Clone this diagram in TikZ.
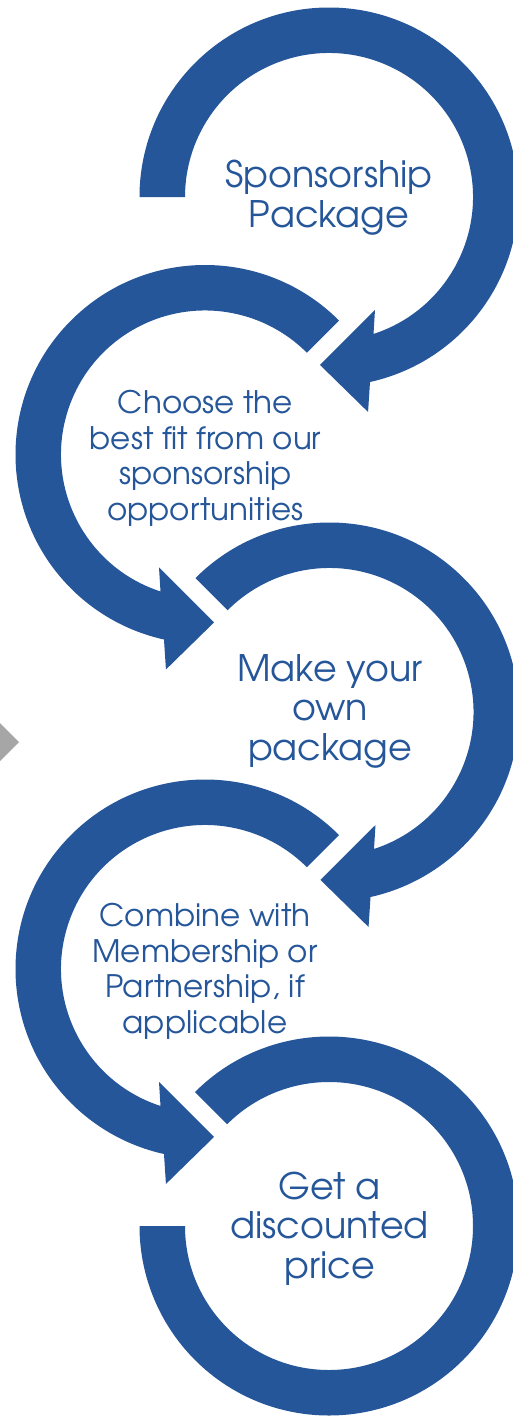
\documentclass[tikz,border=0pt]{standalone}
\usepackage{fontspec}
\setmainfont{TeX Gyre Adventor}
\definecolor{ringblue}{RGB}{37,86,154}
\definecolor{chevgray}{RGB}{166,166,166}
\tikzset{
  ring/.style={fill=ringblue, draw=none},
  bigtext/.style={text=ringblue, align=center, font=\fontsize{36.5}{39.5}\selectfont, inner sep=0pt, anchor=base},
  smalltext/.style={text=ringblue, align=center, font=\fontsize{31}{35.5}\selectfont, inner sep=0pt, anchor=base},
}
\newcommand\cwring[1]{%
  \fill[ring] (#1:189.5) arc[start angle=#1, end angle=-77.5, radius=189.5]
    -- (-79.7:218.5) -- (-93.07:168.2) -- (-67.85:122) -- (-72:144)
    arc[start angle=-72, end angle=#1, radius=144] -- cycle;}
\begin{document}
\begin{tikzpicture}[x=1pt,y=1pt]
\useasboundingbox (0,0) rectangle (513,-1416);
\fill[white] (0,0) rectangle (513,-1416);
\clip (0,0) rectangle (513,-1416);
% rings
\begin{scope}[shift={(329,-197)}]\cwring{180}\end{scope}
\begin{scope}[shift={(205,-454.5)},xscale=-1]\cwring{135}\end{scope}
\begin{scope}[shift={(329.5,-712)}]\cwring{135}\end{scope}
\begin{scope}[shift={(205,-969)},xscale=-1]\cwring{135}\end{scope}
\begin{scope}[shift={(329,-1226)}]
  \fill[ring] (135:189.5) arc[start angle=135, end angle=-180, radius=189.5]
    -- (180:144) arc[start angle=-180, end angle=135, radius=144] -- cycle;
\end{scope}
% gray chevron tip
\fill[chevgray] (0,-723) -- (19,-742) -- (0,-761) -- cycle;
% texts (anchor base = last line's baseline)
\node[bigtext] (t1) at (329,-227) {Sponsorship\\Package};
\node[smalltext] (t2) at (205.5,-520) {Choose the\\best fit from our\\sponsorship\\opportunities};
\node[bigtext] (t3) at (330,-760) {Make your\\own\\package};
\node[smalltext] (t4) at (205,-1033) {Combine with\\Membership or\\Partnership, if\\applicable};
\node[bigtext] (t5) at (329.5,-1278) {Get a\\discounted\\price};
\end{tikzpicture}
\end{document}
